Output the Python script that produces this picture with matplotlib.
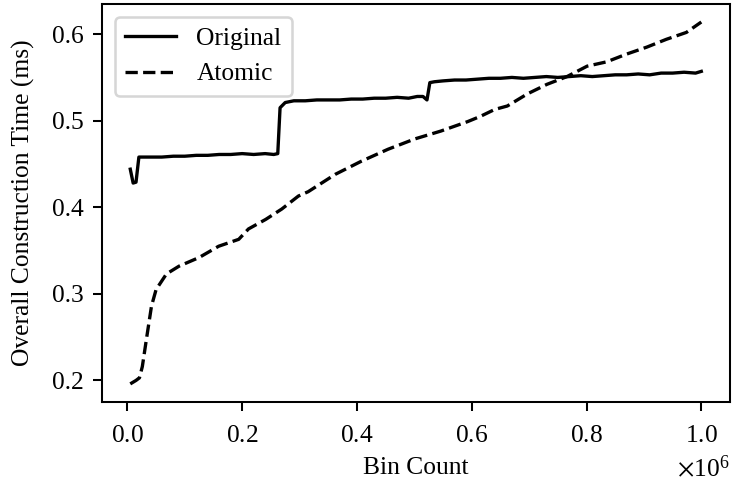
import matplotlib
matplotlib.use("Agg")
import matplotlib.pyplot as plt
from matplotlib.ticker import ScalarFormatter

plt.rcParams["font.family"] = "serif"
plt.rcParams["font.serif"] = ["Liberation Serif", "DejaVu Serif"]
plt.rcParams["mathtext.fontset"] = "stix"
plt.rcParams["font.size"] = 10

# Bin count in units of 1e6
orig_x = [0.005, 0.010, 0.015, 0.020, 0.04, 0.06, 0.08, 0.10, 0.12, 0.14, 0.16, 0.18,
          0.20, 0.22, 0.24, 0.255, 0.262, 0.266, 0.275, 0.29, 0.31, 0.33, 0.35, 0.37,
          0.39, 0.41, 0.43, 0.45, 0.47, 0.49, 0.505, 0.515, 0.522, 0.527, 0.535, 0.55,
          0.57, 0.59, 0.61, 0.63, 0.65, 0.67, 0.69, 0.71, 0.73, 0.75, 0.77, 0.79, 0.81,
          0.83, 0.85, 0.87, 0.89, 0.91, 0.93, 0.95, 0.97, 0.99, 1.0]
orig_y = [0.444, 0.428, 0.429, 0.458, 0.458, 0.458, 0.459, 0.459, 0.460, 0.460, 0.461, 0.461,
          0.462, 0.461, 0.462, 0.461, 0.462, 0.515, 0.521, 0.523, 0.523, 0.524, 0.524, 0.524,
          0.525, 0.525, 0.526, 0.526, 0.527, 0.526, 0.528, 0.528, 0.524, 0.544, 0.545, 0.546,
          0.547, 0.547, 0.548, 0.549, 0.549, 0.550, 0.549, 0.550, 0.551, 0.550, 0.551, 0.552,
          0.551, 0.552, 0.553, 0.553, 0.554, 0.553, 0.555, 0.555, 0.556, 0.555, 0.557]

atom_x = [0.005, 0.015, 0.021, 0.026, 0.033, 0.042, 0.050, 0.068, 0.090, 0.125, 0.159,
          0.194, 0.211, 0.241, 0.269, 0.298, 0.315, 0.362, 0.407, 0.454, 0.501, 0.546,
          0.593, 0.615, 0.640, 0.662, 0.697, 0.731, 0.766, 0.801, 0.835, 0.870, 0.905,
          0.939, 0.974, 1.0]
atom_y = [0.196, 0.200, 0.203, 0.216, 0.247, 0.286, 0.305, 0.323, 0.332, 0.342, 0.355,
          0.363, 0.375, 0.386, 0.398, 0.413, 0.418, 0.438, 0.453, 0.467, 0.479, 0.488,
          0.499, 0.505, 0.513, 0.517, 0.531, 0.542, 0.551, 0.563, 0.568, 0.577, 0.585,
          0.594, 0.602, 0.614]

fig = plt.figure(figsize=(735 / 184, 491 / 184), dpi=184)
ax = fig.add_axes([0.1384, 0.1813, 0.8546, 0.8107])

ax.plot([x * 1e6 for x in orig_x], orig_y, color="black", linestyle="-", lw=1.3, label="Original")
ax.plot([x * 1e6 for x in atom_x], atom_y, color="black", linestyle="--", lw=1.3, label="Atomic")

fmt = ScalarFormatter(useMathText=True)
fmt.set_powerlimits((0, 0))
ax.xaxis.set_major_formatter(fmt)
ax.tick_params(axis="x", pad=5.5)

ax.set_xlabel("Bin Count")
ax.set_ylabel("Overall Construction Time (ms)", labelpad=6.5)
ax.set_yticks([0.2, 0.3, 0.4, 0.5, 0.6])
ax.legend(loc="upper left")

fig.savefig("out.png", dpi=184)
